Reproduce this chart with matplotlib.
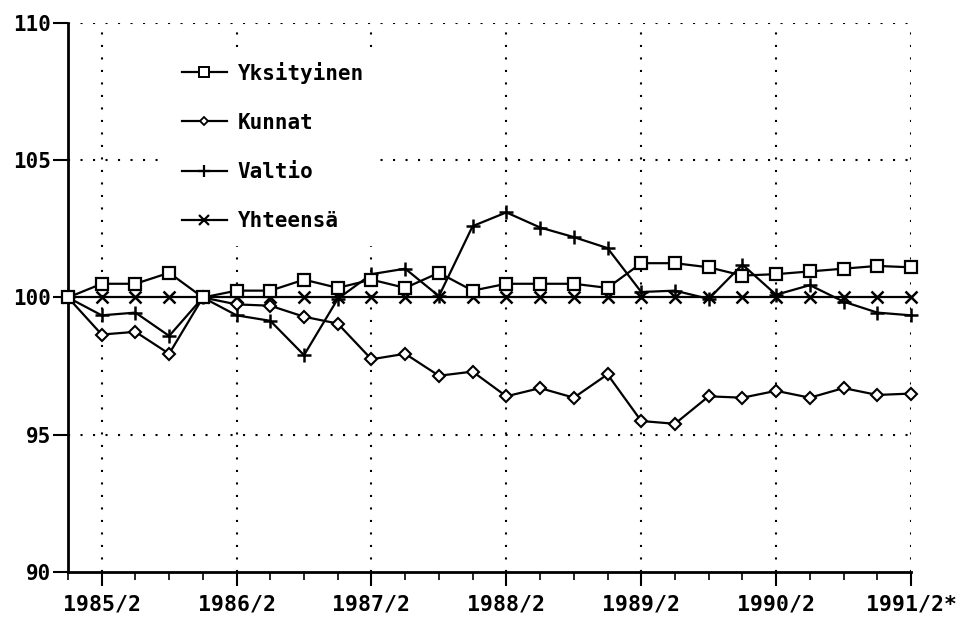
import numpy as np
import matplotlib
matplotlib.use("Agg")
import matplotlib.pyplot as plt
from matplotlib.lines import Line2D

# quarterly index, 1985/1 .. 1991/2
quarters = list(range(26))
tick_pos = [1, 5, 9, 13, 17, 21, 25]
tick_labels = ["1985/2", "1986/2", "1987/2", "1988/2", "1989/2", "1990/2", "1991/2*"]

yksityinen = [100, 100.5, 100.5, 100.9, 100, 100.25, 100.25, 100.65, 100.35, 100.65,
              100.35, 100.9, 100.25, 100.5, 100.5, 100.5, 100.35, 101.25, 101.25, 101.1,
              100.8, 100.85, 100.95, 101.05, 101.15, 101.1]
kunnat = [100, 98.65, 98.75, 97.95, 100, 99.75, 99.7, 99.3, 99.05, 97.75,
          97.95, 97.15, 97.3, 96.4, 96.7, 96.35, 97.2, 95.5, 95.4, 96.4,
          96.35, 96.6, 96.35, 96.7, 96.45, 96.5]
valtio = [100, 99.35, 99.45, 98.6, 100, 99.35, 99.15, 97.9, 99.95, 100.85,
          101.05, 100.05, 102.6, 103.1, 102.55, 102.2, 101.8, 100.2, 100.25, 99.95,
          101.2, 100.1, 100.45, 99.85, 99.45, 99.35]
yhteensa = [100, 100, 100, 100, 100, 100, 100, 100, 100, 100,
            100, 100, 100, 100, 100, 100, 100, 100, 100, 100,
            100, 100, 100, 100, 100, 100]

plt.rcParams['font.family'] = ['DejaVu Sans Mono']
plt.rcParams['font.weight'] = 'bold'

fig = plt.figure(figsize=(9.63, 6.19), dpi=100)
ax = fig.add_axes([68 / 963, 47 / 619, 843 / 963, 549 / 619])

lw = 1.6
ax.plot(quarters, yhteensa, color='black', lw=lw, marker='x', ms=8.5, mew=1.8,
        clip_on=False, zorder=3)
ax.plot(quarters, valtio, color='black', lw=lw, marker='+', ms=9.5, mew=1.8,
        clip_on=False, zorder=4)
ax.plot(quarters, kunnat, color='black', lw=lw, marker='D', ms=6.3, mew=1.5,
        mfc='white', clip_on=False, zorder=5)
ax.plot(quarters, yksityinen, color='black', lw=lw, marker='s', ms=9, mew=1.6,
        mfc='white', clip_on=False, zorder=6)

ax.set_xlim(0, 25)
ax.set_ylim(90, 110)

# dotted grid
dots = (0, (1, 5))
for y in [95, 105, 110]:
    ax.axhline(y, color='black', lw=1.5, ls=dots, zorder=1)
for x in tick_pos:
    ax.axvline(x, color='black', lw=1.5, ls=dots, zorder=1)

for s in ['top', 'right']:
    ax.spines[s].set_visible(False)
for s in ['left', 'bottom']:
    ax.spines[s].set_linewidth(2)

ax.set_yticks([90, 95, 100, 105, 110])
ax.set_yticklabels(['90', '95', '100', '105', '110'], fontsize=15, fontweight='bold')
ax.tick_params(axis='y', length=10.5, width=1.5, direction='out', pad=1.5)

ax.set_xticks(tick_pos)
ax.set_xticklabels(tick_labels, fontsize=15.5, fontweight='bold')
ax.set_xticks(quarters, minor=True)
ax.tick_params(axis='x', which='major', length=10, width=1.5, direction='out', pad=6)
ax.tick_params(axis='x', which='minor', length=6, width=1.2, direction='out')

# legend with smaller markers, as in the original
handles = [
    Line2D([], [], color='black', lw=1.6, marker='s', ms=6.5, mew=1.4, mfc='white'),
    Line2D([], [], color='black', lw=1.6, marker='D', ms=4.5, mew=1.3, mfc='white'),
    Line2D([], [], color='black', lw=1.6, marker='+', ms=9, mew=1.6),
    Line2D([], [], color='black', lw=1.6, marker='x', ms=7.5, mew=1.6),
]
labels = ['Yksityinen', 'Kunnat', 'Valtio', 'Yhteensä']
leg = ax.legend(handles, labels, loc='upper left',
                bbox_to_anchor=(0.119, 0.9545), borderaxespad=0, frameon=True,
                fancybox=False, edgecolor='white', facecolor='white', framealpha=1,
                prop={'size': 15, 'weight': 'bold'}, handlelength=2.16,
                labelspacing=1.4, handletextpad=0.53, borderpad=0.65)
leg.set_zorder(10)

fig.savefig('out.png', dpi=100)
